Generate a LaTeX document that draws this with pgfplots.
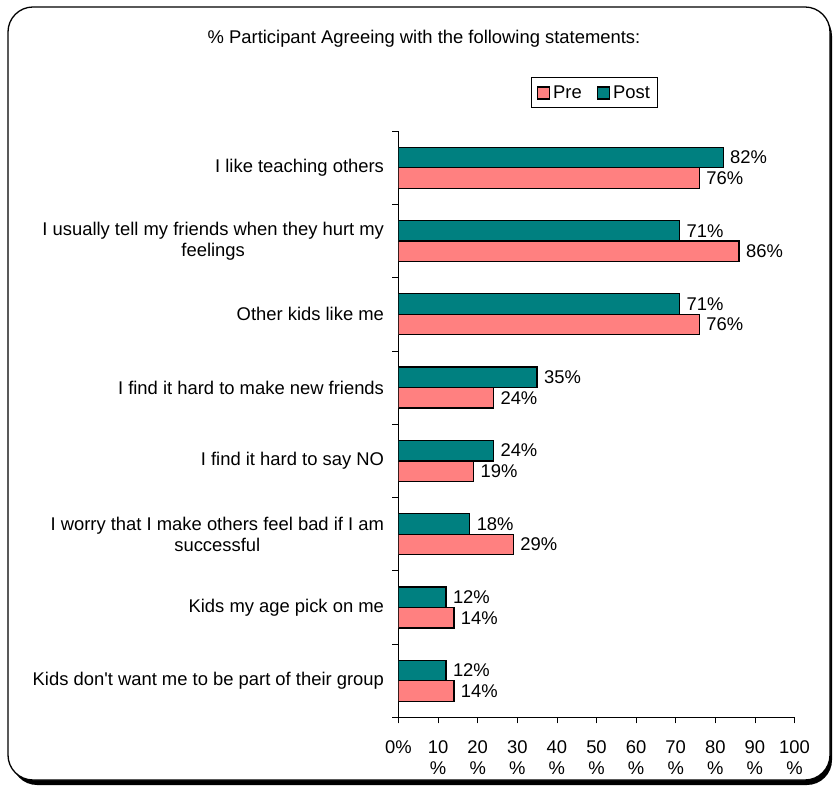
\documentclass[border=0pt]{standalone}
\usepackage{fontspec}
\setmainfont{Liberation Sans}
\usepackage{pgfplots}
\pgfplotsset{compat=1.18}
\definecolor{pre}{HTML}{FF8080}
\definecolor{post}{HTML}{008080}
\newcommand{\fs}{\fontsize{18.4}{21}\selectfont}
\begin{document}
\begin{tikzpicture}[x=1pt,y=1pt]
\useasboundingbox (0,0) rectangle (833,785);
\fill[black, rounded corners=25pt] (12,0) rectangle (832,774);
\draw[line width=1.3pt, fill=white, rounded corners=25pt] (8,5) rectangle (830,778);
\node[font=\fs] at (424,746) {\% Participant Agreeing with the following statements:};
\begin{axis}[
  at={(398.5pt,67.6pt)}, anchor=south west,
  scale only axis, width=396pt, height=586.4pt,
  xbar, bar width=20.5pt,
  xmin=0, xmax=100, ymin=-0.5, ymax=7.5,
  axis lines=left, axis line style={-, line width=1pt},
  xtick={0,10,...,100},
  xticklabels={0\%,{10\\\%},{20\\\%},{30\\\%},{40\\\%},{50\\\%},{60\\\%},{70\\\%},{80\\\%},{90\\\%},{100\\\%}},
  xticklabel style={align=center, font=\fs, yshift=-14pt},
  ytick={0,...,7},
  yticklabels={Kids don\textquotesingle t want me to be part of their group,
    Kids my age pick on me,
    {I worry that I make others feel bad if I am\\successful},
    I find it hard to say NO,
    I find it hard to make new friends,
    Other kids like me,
    {I usually tell my friends when they hurt my\\feelings},
    I like teaching others},
  yticklabel style={align=center, font=\fs, xshift=-5pt},
  minor ytick={-0.5,0.5,...,7.5},
  tick align=outside, major tick length=6pt, minor tick length=6pt,
  tick style={black, line width=0.8pt},
  major y tick style={draw=none},
  legend style={at={(0.496,1.065)}, anchor=center, legend columns=2,
    draw=black, line width=1pt, font=\fs, inner xsep=5pt, inner ysep=2pt,
    nodes={inner ysep=6pt, inner xsep=3pt},
    /tikz/every even column/.append style={column sep=12pt}},
  nodes near coords={\pgfmathprintnumber[assume math mode=true]{\pgfplotspointmeta}\%},
  point meta=x,
  every node near coord/.append style={font=\fs, anchor=west, black, xshift=3pt},
]
\addplot[fill=pre, draw=black, line width=1.3pt, bar shift=-10.25pt,
  legend image code/.code={\draw[fill=pre, draw=black, line width=1.3pt] (0pt,-6pt) rectangle (12pt,6pt);}]
  coordinates {(14,0) (14,1) (29,2) (19,3) (24,4) (76,5) (86,6) (76,7)};
\addplot[fill=post, draw=black, line width=1.3pt, bar shift=10.25pt,
  legend image code/.code={\draw[fill=post, draw=black, line width=1.3pt] (0pt,-6pt) rectangle (12pt,6pt);}]
  coordinates {(12,0) (12,1) (18,2) (24,3) (35,4) (71,5) (71,6) (82,7)};
\legend{Pre,Post}
\end{axis}
\end{tikzpicture}
\end{document}
